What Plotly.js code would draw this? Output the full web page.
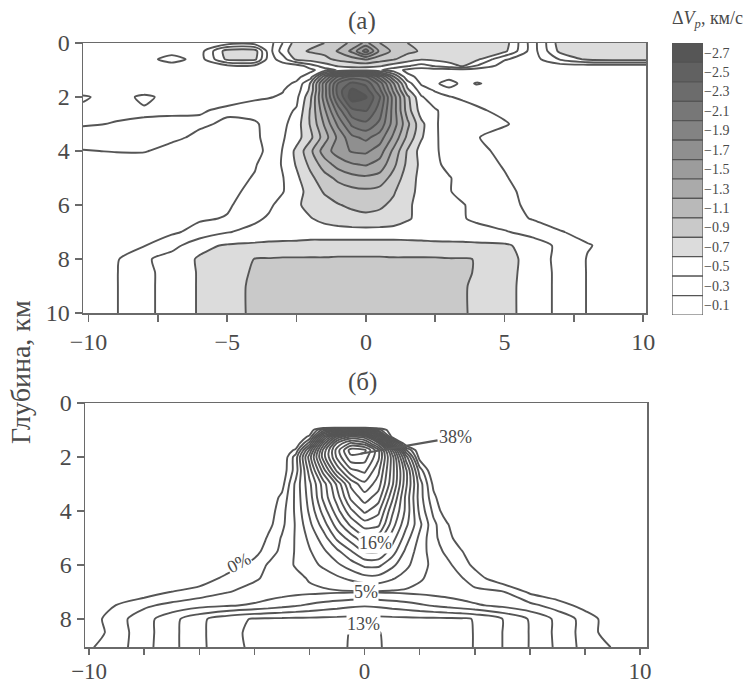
<!DOCTYPE html>
<html><head><meta charset="utf-8">
<script src="https://cdn.plot.ly/plotly-3.0.1.min.js"></script>
<style>html,body{margin:0;padding:0;background:#fff}#chart{width:751px;height:685px}</style>
</head><body><div id="chart"></div>
<script>
// horizontal distance, km (first/last columns read at the frame edges)
const xKm = [-10.2,-9,-8,-7,-6,-5,-4,-3.5,-3,-2.5,-2,-1.5,-1,-0.5,0,0.5,1,1.5,2,2.5,3,3.5,4,5,6,7,8,9,10.25];

// panel (a): depth rows, km
const depthA = [0,0.3,0.6,0.85,1.0,1.25,1.5,1.75,2.0,2.5,3.0,3.5,4.0,4.5,5.0,5.5,6.0,6.5,7.0,7.5,8.0,8.5,9.0,10.0];
// panel (a): dVp, km/s
const dVp = [
[-0.2,-0.2,-0.2,-0.2,-0.2,-0.2,-0.2,-0.2,-0.5,-0.8,-0.85,-0.9,-1.0,-1.15,-1.35,-1.1,-0.98,-0.9,-0.85,-0.85,-0.85,-0.85,-0.85,-0.8,-0.2,-0.8,-0.85,-0.85,-0.85],
[-0.2,-0.2,-0.2,-0.2,-0.2,-0.8,-0.8,-0.2,-0.6,-0.85,-0.92,-0.95,-1.12,-1.35,-1.8,-1.25,-1.05,-0.95,-0.88,-0.85,-0.85,-0.85,-0.85,-0.75,-0.2,-0.75,-0.8,-0.8,-0.8],
[-0.2,-0.2,-0.2,-0.4,-0.2,-0.75,-0.75,-0.2,-0.4,-0.75,-0.8,-0.85,-0.95,-1.02,-1.12,-1.0,-0.92,-0.8,-0.72,-0.75,-0.78,-0.75,-0.75,-0.32,-0.2,-0.52,-0.75,-0.78,-0.78],
[-0.2,-0.2,-0.2,-0.2,-0.2,-0.25,-0.25,-0.2,-0.2,-0.2,-0.4,-0.6,-0.72,-0.76,-0.76,-0.72,-0.6,-0.52,-0.42,-0.52,-0.62,-0.72,-0.48,-0.2,-0.2,-0.2,-0.2,-0.2,-0.2],
[-0.2,-0.2,-0.2,-0.2,-0.2,-0.2,-0.2,-0.2,-0.2,-0.2,-0.25,-0.4,-0.52,-0.58,-0.58,-0.52,-0.4,-0.25,-0.2,-0.2,-0.2,-0.2,-0.2,-0.2,-0.2,-0.2,-0.2,-0.2,-0.2],
[-0.2,-0.2,-0.2,-0.2,-0.2,-0.2,-0.2,-0.2,-0.2,-0.25,-0.4,-1.2,-1.92,-2.2,-2.12,-1.6,-0.92,-0.35,-0.25,-0.2,-0.2,-0.2,-0.2,-0.2,-0.2,-0.2,-0.2,-0.2,-0.2],
[-0.2,-0.2,-0.2,-0.2,-0.2,-0.2,-0.2,-0.2,-0.25,-0.33,-0.72,-1.6,-2.32,-2.55,-2.45,-2.02,-1.32,-0.6,-0.27,-0.25,-0.42,-0.22,-0.32,-0.2,-0.2,-0.2,-0.2,-0.2,-0.2],
[-0.2,-0.2,-0.2,-0.2,-0.2,-0.22,-0.25,-0.28,-0.29,-0.4,-0.75,-1.6,-2.4,-2.75,-2.6,-2.15,-1.45,-0.75,-0.4,-0.28,-0.22,-0.2,-0.2,-0.2,-0.2,-0.2,-0.2,-0.2,-0.2],
[-0.33,-0.2,-0.35,-0.22,-0.24,-0.26,-0.28,-0.29,-0.32,-0.45,-0.85,-1.6,-2.32,-2.82,-2.72,-2.32,-1.6,-0.95,-0.52,-0.38,-0.31,-0.27,-0.24,-0.2,-0.2,-0.2,-0.2,-0.2,-0.2],
[-0.25,-0.26,-0.27,-0.28,-0.29,-0.32,-0.36,-0.4,-0.44,-0.52,-0.92,-1.45,-2.0,-2.45,-2.52,-2.2,-1.6,-1.0,-0.6,-0.52,-0.42,-0.38,-0.33,-0.25,-0.2,-0.2,-0.2,-0.2,-0.2],
[-0.28,-0.31,-0.33,-0.33,-0.32,-0.28,-0.28,-0.35,-0.45,-0.6,-0.92,-1.32,-1.75,-2.15,-2.25,-2.05,-1.6,-1.15,-0.75,-0.52,-0.42,-0.38,-0.36,-0.32,-0.2,-0.2,-0.2,-0.2,-0.2],
[-0.4,-0.4,-0.38,-0.33,-0.27,-0.25,-0.27,-0.35,-0.48,-0.62,-0.85,-1.2,-1.55,-1.85,-1.95,-1.8,-1.45,-1.05,-0.72,-0.52,-0.43,-0.37,-0.31,-0.22,-0.2,-0.2,-0.2,-0.2,-0.2],
[-0.29,-0.31,-0.31,-0.25,-0.22,-0.22,-0.26,-0.33,-0.51,-0.75,-1.05,-1.4,-1.6,-1.72,-1.74,-1.6,-1.25,-0.88,-0.62,-0.52,-0.44,-0.38,-0.33,-0.27,-0.2,-0.2,-0.2,-0.2,-0.2],
[-0.2,-0.2,-0.21,-0.22,-0.22,-0.24,-0.29,-0.36,-0.52,-0.72,-0.95,-1.2,-1.38,-1.48,-1.52,-1.42,-1.15,-0.85,-0.65,-0.53,-0.46,-0.4,-0.35,-0.29,-0.22,-0.2,-0.2,-0.2,-0.2],
[-0.2,-0.2,-0.21,-0.22,-0.23,-0.25,-0.31,-0.38,-0.49,-0.66,-0.85,-1.02,-1.15,-1.23,-1.26,-1.22,-1.02,-0.8,-0.64,-0.56,-0.51,-0.45,-0.38,-0.31,-0.24,-0.2,-0.2,-0.2,-0.2],
[-0.2,-0.2,-0.21,-0.22,-0.24,-0.27,-0.33,-0.4,-0.49,-0.62,-0.78,-0.92,-0.99,-1.04,-1.06,-1.03,-0.92,-0.77,-0.64,-0.56,-0.51,-0.45,-0.4,-0.33,-0.26,-0.21,-0.2,-0.2,-0.2],
[-0.2,-0.21,-0.22,-0.24,-0.26,-0.28,-0.38,-0.47,-0.56,-0.67,-0.76,-0.82,-0.89,-0.93,-0.95,-0.93,-0.86,-0.73,-0.64,-0.57,-0.53,-0.51,-0.45,-0.34,-0.27,-0.22,-0.2,-0.2,-0.2],
[-0.2,-0.21,-0.22,-0.25,-0.28,-0.31,-0.47,-0.52,-0.57,-0.63,-0.69,-0.75,-0.8,-0.84,-0.86,-0.84,-0.8,-0.72,-0.65,-0.58,-0.54,-0.51,-0.47,-0.37,-0.29,-0.23,-0.2,-0.2,-0.2],
[-0.2,-0.22,-0.24,-0.27,-0.36,-0.49,-0.55,-0.58,-0.6,-0.61,-0.62,-0.62,-0.62,-0.62,-0.62,-0.62,-0.62,-0.61,-0.6,-0.59,-0.58,-0.57,-0.56,-0.52,-0.42,-0.31,-0.25,-0.21,-0.2],
[-0.21,-0.24,-0.29,-0.42,-0.65,-0.72,-0.74,-0.75,-0.75,-0.75,-0.76,-0.76,-0.76,-0.76,-0.76,-0.76,-0.76,-0.76,-0.76,-0.75,-0.75,-0.75,-0.74,-0.73,-0.62,-0.45,-0.31,-0.25,-0.21],
[-0.22,-0.28,-0.46,-0.6,-0.72,-0.82,-0.905,-0.91,-0.92,-0.92,-0.92,-0.92,-0.93,-0.93,-0.93,-0.93,-0.92,-0.92,-0.92,-0.92,-0.91,-0.91,-0.895,-0.78,-0.62,-0.44,-0.29,-0.24,-0.21],
[-0.22,-0.29,-0.46,-0.56,-0.72,-0.83,-0.92,-0.96,-0.97,-0.97,-0.98,-0.98,-0.98,-0.98,-0.98,-0.98,-0.98,-0.98,-0.97,-0.97,-0.96,-0.94,-0.88,-0.77,-0.62,-0.45,-0.29,-0.24,-0.21],
[-0.22,-0.29,-0.46,-0.56,-0.72,-0.84,-0.93,-0.96,-0.97,-0.97,-0.98,-0.98,-0.98,-0.98,-0.98,-0.98,-0.98,-0.98,-0.97,-0.97,-0.96,-0.92,-0.86,-0.76,-0.62,-0.45,-0.29,-0.24,-0.21],
[-0.22,-0.29,-0.46,-0.56,-0.72,-0.84,-0.93,-0.96,-0.97,-0.97,-0.98,-0.98,-0.98,-0.98,-0.98,-0.98,-0.98,-0.98,-0.97,-0.97,-0.96,-0.92,-0.86,-0.76,-0.62,-0.45,-0.29,-0.24,-0.21]
];

// panel (b): depth rows, km
const depthB = [0,0.5,0.9,1.0,1.25,1.5,1.75,2.0,2.5,3.0,3.5,4.0,4.5,5.0,5.5,6.0,6.5,7.0,7.5,8.0,8.5,9.05];
// panel (b): anomaly, %
const pct = [
[-1,-1,-1,-1,-1,-1,-1,-1,-1,-1,-1,-1,-1,-1,-1,-1,-1,-1,-1,-1,-1,-1,-1,-1,-1,-1,-1,-1,-1],
[-1,-1,-1,-1,-1,-1,-1,-1,-1,-1,-1,-1,-1,-1,-1,-1,-1,-1,-1,-1,-1,-1,-1,-1,-1,-1,-1,-1,-1],
[-1,-1,-1,-1,-1,-1,-1,-1,-1,-1,-1,-1,-1,-1,-1,-1,-1,-1,-1,-1,-1,-1,-1,-1,-1,-1,-1,-1,-1],
[-1,-1,-1,-1,-1,-1,-1,-1,-1,-1,-1,6,10,12,10,4,-1,-1,-1,-1,-1,-1,-1,-1,-1,-1,-1,-1,-1],
[-1,-1,-1,-1,-1,-1,-1,-1,-1,-1,1.5,14,23.5,27.5,26,16,0,-1,-1,-1,-1,-1,-1,-1,-1,-1,-1,-1,-1],
[-1,-1,-1,-1,-1,-1,-1,-1,-1,-1,6,20,29.5,33.5,32,25.5,10,-1,-1,-1,-1,-1,-1,-1,-1,-1,-1,-1,-1],
[-1,-1,-1,-1,-1,-1,-1,-1,-1,1.5,11.5,23.5,32,38,37.5,31.5,19.5,5.5,-1,-1,-1,-1,-1,-1,-1,-1,-1,-1,-1],
[-1,-1,-1,-1,-1,-1,-1,-1,-1,4,14,24,31.5,36.5,36,31.5,22,10,0,-1,-1,-1,-1,-1,-1,-1,-1,-1,-1],
[-1,-1,-1,-1,-1,-1,-1,-1,-0.5,4,12,20,27.5,32.5,33.5,29.5,22,13.5,4,-1,-1,-1,-1,-1,-1,-1,-1,-1,-1],
[-1,-1,-1,-1,-1,-1,-1,-1,0.2,5.5,10.5,16,21.5,27.5,30.5,28,21.5,13.5,6,0.5,-1,-1,-1,-1,-1,-1,-1,-1,-1],
[-1,-1,-1,-1,-1,-1,-1,-0.5,1.5,5.5,10,15.5,20,25.5,28,26,19.5,12.5,6,1.5,-1,-1,-1,-1,-1,-1,-1,-1,-1],
[-1,-1,-1,-1,-1,-1,-1,-0.2,2.2,5.4,9.4,13.8,18.2,22.5,25.5,23.5,17.5,12.5,6.5,2.5,-0.5,-1,-1,-1,-1,-1,-1,-1,-1],
[-1,-1,-1,-1,-1,-1,-1,0.3,2.5,5.2,8.5,12,16,19.5,22,21.5,16,11.5,7.5,3.5,1.2,-1,-1,-1,-1,-1,-1,-1,-1],
[-1,-1,-1,-1,-1,-1,-1,1.3,3.2,5.2,7.5,10,13.5,16,18.5,18,14,10,6.5,3.5,1.8,-0.2,-1,-1,-1,-1,-1,-1,-1],
[-1,-1,-1,-1,-1,-1,0.2,2,3.5,5.2,6.8,8.6,10.5,12.8,15.2,15.2,12,8.5,6,4,2.5,1.2,-0.5,-1,-1,-1,-1,-1,-1],
[-1,-1,-1,-1,-1,-0.2,1.8,3.2,4,5.2,6.2,7.4,8.6,10,11.5,11.5,9.5,7.5,5.8,4.5,3.5,2,0.5,-1,-1,-1,-1,-1,-1],
[-1,-1,-1,-1,-0.3,1.6,2.8,3.3,3.8,4.4,5.2,5.8,6.6,7.4,8.2,8.2,7.2,6.2,5.2,4.5,3.8,3.2,2,-0.5,-1,-1,-1,-1,-1],
[-1,-1,-0.2,1.05,1.9,2.9,3.6,3.9,4.2,4.4,4.55,4.65,4.75,4.8,4.8,4.8,4.75,4.65,4.5,4.3,4.1,3.8,3.5,3.2,0.6,-0.5,-1,-1,-1],
[-1,1.1,2.6,3.6,4.3,4.8,5.3,5.8,6.3,6.8,7.3,7.8,8.2,8.6,8.8,8.6,8.2,7.8,7.3,6.8,6.3,5.8,5.3,4.5,3.6,2,0.2,-1,-1],
[-0.5,2.2,4.2,6.3,8.5,10.2,11.2,11.3,11.35,11.4,11.4,11.45,11.5,11.55,11.6,11.55,11.5,11.45,11.4,11.4,11.35,11.3,10.9,9,6.8,4.5,2.2,-0.3,-1],
[-0.8,2,4.2,6.4,8.6,10.2,11.6,11.8,12,12.2,12.4,12.6,12.7,13.05,13.3,13.05,12.7,12.6,12.4,12.2,12,11.6,10.9,9,6.9,4.5,2.2,-0.3,-1],
[0.5,2.1,4.3,6.4,8.6,10.1,11.5,11.8,12,12.2,12.4,12.6,12.7,13.1,13.4,13.1,12.7,12.6,12.4,12.2,12,11.6,10.9,9,6.9,4.6,2.3,0.9,-1]
];

// legend (scale) values and labels
const scaleLevels = [-2.7,-2.5,-2.3,-2.1,-1.9,-1.7,-1.5,-1.3,-1.1,-0.9,-0.7,-0.5,-0.3,-0.1];
const scaleLabels = ['−2.7','−2.5','−2.3','−2.1','−1.9','−1.7','−1.5','−1.3','−1.1','−0.9','−0.7','−0.5','−0.3','−0.1'];
// gray for each band, darkest first (band below -2.7 ... above -0.1)
const grays = ['#565656','#616161','#6c6c6c','#777777','#838383','#8f8f8f','#9c9c9c','#aaaaaa','#b9b9b9','#c9c9c9','#dcdcdc','#ffffff','#ffffff','#ffffff','#ffffff'];

// tick labels
const xTickA = [-10,-7.5,-5,-2.5,0,2.5,5,7.5,10];
const xTextA = ['−10','','−5','','0','','5','','10'];
const xTickB = [-10,-8,-6,-4,-2,0,2,4,6,8,10];
const xTextB = ['−10','','','','','0','','','','','10'];
const yTickA = [0,2,4,6,8,10];
const yTickB = [0,2,4,6,8];

const FONT = 'Liberation Serif, Times New Roman, serif';
const TXT = '#4a4a4a';
const LINE = '#555555';
const colorscale = grays.map((c,k)=>[k/(grays.length-1), c]);

const traces = [
  {type:'contour', x:xKm, y:depthA, z:dVp, xaxis:'x', yaxis:'y',
   autocontour:false, contours:{start:-2.7, end:-0.1, size:0.2, coloring:'fill', showlines:true},
   colorscale:colorscale, showscale:false, line:{color:LINE, width:1.9, smoothing:0.7}, hoverinfo:'skip'},
  {type:'contour', x:xKm, y:depthB, z:pct, xaxis:'x2', yaxis:'y2',
   autocontour:false, contours:{start:1, end:37, size:2, coloring:'none'},
   showscale:false, line:{color:LINE, width:1.9, smoothing:0.7}, hoverinfo:'skip'},
  {type:'bar', orientation:'h', y:scaleLevels, x:scaleLevels.map(()=>1), width:0.2,
   marker:{color:grays.slice(0, scaleLevels.length), line:{color:LINE, width:1.2}},
   xaxis:'x3', yaxis:'y3', showlegend:false, hoverinfo:'skip'}
];

const axBase = {showline:true, mirror:true, linecolor:'#6a6a6a', linewidth:1.5, ticks:'outside',
  ticklen:7, tickwidth:1.5, tickcolor:'#6a6a6a', showgrid:false, zeroline:false,
  tickfont:{family:FONT, size:24, color:TXT}, fixedrange:true};

const W = 751, H = 685;
const px = v => v/W, py = v => 1 - v/H;

const layout = {
  width:W, height:H, margin:{l:0,r:0,t:0,b:0},
  paper_bgcolor:'#fff', plot_bgcolor:'#fff', showlegend:false,
  font:{family:FONT, color:TXT},
  xaxis:Object.assign({}, axBase, {domain:[px(83),px(646)], range:[-10.2,10.1], anchor:'y', tickmode:'array', tickvals:xTickA, ticktext:xTextA}),
  yaxis:Object.assign({}, axBase, {domain:[py(313),py(43)], range:[10,0], anchor:'x', tickmode:'array', tickvals:yTickA, ticktext:yTickA.map(String)}),
  xaxis2:Object.assign({}, axBase, {domain:[px(85),px(647)], range:[-10.15,10.25], anchor:'y2', tickmode:'array', tickvals:xTickB, ticktext:xTextB, ticklen:6, ticklabelstandoff:-3, tickfont:{family:FONT, size:23, color:TXT}}),
  yaxis2:Object.assign({}, axBase, {domain:[py(647),py(403)], range:[9.04,0], anchor:'x2', tickmode:'array', tickvals:yTickB, ticktext:yTickB.map(String)}),
  xaxis3:{domain:[px(672),px(703)], range:[0,1], anchor:'y3', visible:false, fixedrange:true},
  yaxis3:{domain:[py(315),py(43)], range:[0,-2.8], anchor:'x3', side:'right', showline:false, ticks:'',
    showgrid:false, zeroline:false, tickmode:'array', tickvals:scaleLevels, ticktext:scaleLabels,
    tickfont:{family:FONT, size:14, color:TXT}, fixedrange:true},
  annotations:[
    {xref:'paper', yref:'paper', x:px(362), y:py(21), text:'(а)', showarrow:false, font:{size:25, color:TXT}, xanchor:'center', yanchor:'middle'},
    {xref:'paper', yref:'paper', x:px(362), y:py(382), text:'(б)', showarrow:false, font:{size:25, color:TXT}, xanchor:'center', yanchor:'middle'},
    {xref:'paper', yref:'paper', x:px(20), y:py(372), text:'Глубина, км', textangle:-90, showarrow:false, font:{size:28, color:TXT}, xanchor:'center', yanchor:'middle'},
    {xref:'paper', yref:'paper', x:px(707), y:py(19), text:'Δ<i>V</i><sub><i>p</i></sub>, км/с', showarrow:false, font:{size:18, color:TXT}, xanchor:'center', yanchor:'middle'},
    // 38% label with leader to the maximum
    {xref:'x2', yref:'y2', axref:'x2', ayref:'y2', x:-0.15, y:1.88, ax:3.3, ay:1.27, text:'38%', showarrow:true,
     arrowhead:0, arrowwidth:2.2, arrowcolor:'#5a5a5a', standoff:0, font:{size:18, color:TXT}},
    {xref:'x2', yref:'y2', x:0.4, y:5.2, text:'16%', showarrow:false, bgcolor:'#fff', borderpad:0, font:{size:18, color:TXT}},
    {xref:'x2', yref:'y2', x:0.05, y:7.0, text:'5%', showarrow:false, bgcolor:'#fff', borderpad:0, font:{size:18, color:TXT}},
    {xref:'x2', yref:'y2', x:-0.05, y:8.17, text:'13%', showarrow:false, bgcolor:'#fff', borderpad:0, font:{size:18, color:TXT}},
    {xref:'x2', yref:'y2', x:-4.57, y:5.93, text:'0%', textangle:-28, showarrow:false, bgcolor:'#fff', borderpad:0, font:{size:18, color:TXT}}
  ]
};

Plotly.newPlot('chart', traces, layout, {staticPlot:true, displayModeBar:false});
</script>
</body></html>
